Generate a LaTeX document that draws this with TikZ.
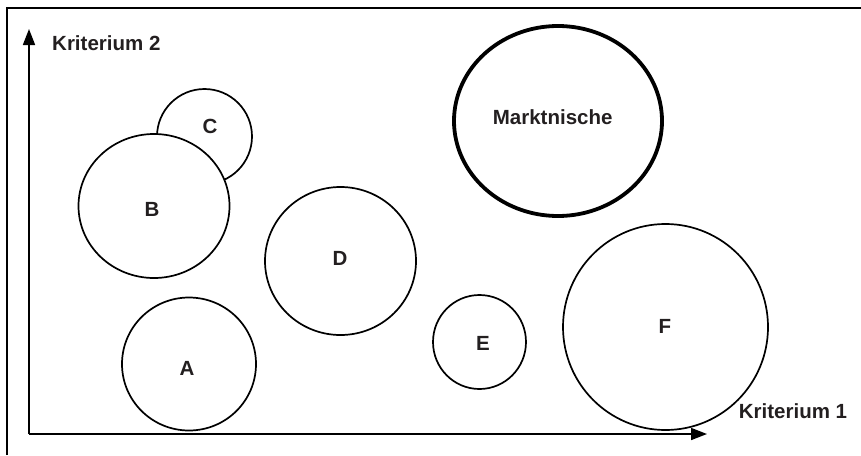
\documentclass[tikz,border=0pt]{standalone}
\usepackage{fontspec}
\setmainfont{Liberation Sans}
\usetikzlibrary{arrows.meta,shapes.geometric}
\definecolor{ink}{RGB}{35,31,32}
\begin{document}
\begin{tikzpicture}[x=1pt,y=-1pt,
  bubble/.style={draw=black,line width=1.7pt,fill=white,ellipse,inner sep=0pt},
  niche/.style={draw=black,line width=3.8pt,ellipse,inner sep=0pt},
  tag/.style={text=ink,font=\fontsize{20.5}{23}\selectfont\bfseries,inner sep=0pt},
  axis/.style={line width=1.7pt,-{Triangle[length=16pt,width=12pt]}}]
\useasboundingbox (0,0) rectangle (861,455);
% frame
\draw[line width=2.5pt] (7,455) -- (7,8) -- (861,8);
% axes
\coordinate (o) at (29,434);
\coordinate (xend) at (707,434);
\coordinate (yend) at (29,29);
\draw[axis] (o) -- (xend);
\draw[axis] (o) -- (yend);
\node[tag,anchor=west] (k2) at (52,43) {Kriterium 2};
\node[tag] (k1) at (793,411.5) {Kriterium 1};
% segments
\node[bubble,minimum width=95pt,minimum height=95pt] (c) at (204.5,136.5) {};
\node[bubble,minimum width=151pt,minimum height=144pt] (b) at (154,206) {};
\node[bubble,minimum width=151pt,minimum height=148pt] (d) at (340.5,261) {};
\node[bubble,minimum width=134pt,minimum height=133pt] (a) at (189,364) {};
\node[bubble,minimum width=93pt,minimum height=94pt] (e) at (479.5,342) {};
\node[bubble,minimum width=205pt,minimum height=206pt] (f) at (665.5,327) {};
\node[niche,minimum width=208pt,minimum height=190pt] (m) at (558,121) {};
% labels
\node[tag] (lc) at (210,126) {C};
\node[tag] (lb) at (152,209) {B};
\node[tag] (ld) at (340,258) {D};
\node[tag] (la) at (187,368.5) {A};
\node[tag] (le) at (483,343.5) {E};
\node[tag] (lf) at (665,326) {F};
\node[tag] (lm) at (552.7,116.7) {Marktnische};
\end{tikzpicture}
\end{document}
